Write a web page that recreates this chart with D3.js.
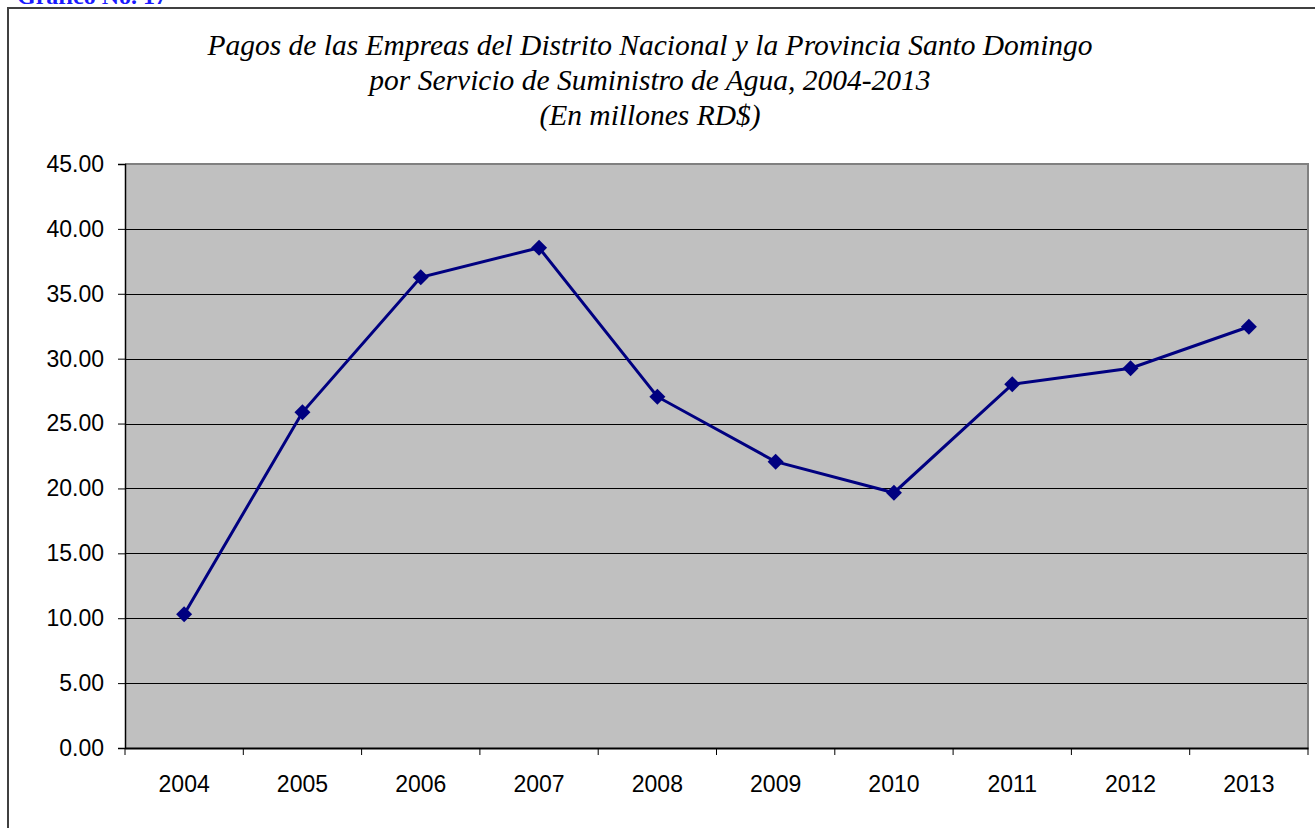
<!DOCTYPE html>
<html>
<head>
<meta charset="utf-8">
<script src="https://cdn.jsdelivr.net/npm/d3@7"></script>
<style>
  body { margin: 0; background: #fff; }
  svg { display: block; }
</style>
</head>
<body>
<div id="chart"></div>
<script>
// data
const years = ["2004", "2005", "2006", "2007", "2008", "2009", "2010", "2011", "2012", "2013"];
const pagos = [10.30, 25.87, 36.27, 38.55, 27.07, 22.06, 19.67, 28.02, 29.26, 32.46];
const yTicks = [0, 5, 10, 15, 20, 25, 30, 35, 40, 45];
const titleLines = [
    "Pagos de las Empreas del Distrito Nacional y la Provincia Santo Domingo",
    "por Servicio de Suministro de Agua, 2004-2013",
    "(En millones RD$)"
];

const width = 1315, height = 828;
const plot = {left: 125, top: 164, right: 1308, bottom: 748};

let svg = d3.select("#chart")
    .append("svg")
    .attr("width", width)
    .attr("height", height);

// blue caption, cut off at the top edge like in the source
svg.append("text")
    .attr("x", 17)
    .attr("y", 4)
    .style("font-family", "'Liberation Serif', 'Times New Roman', serif")
    .style("font-weight", "bold")
    .style("font-size", "24px")
    .style("fill", "#1a1aff")
    .text("Gráfico No. 17");

// outer chart frame
svg.append("rect")
    .attr("x", 8)
    .attr("y", 8)
    .attr("width", width + 20)
    .attr("height", height + 20)
    .attr("fill", "none")
    .attr("stroke", "#404040")
    .attr("stroke-width", 2);

// title
svg.append("g").selectAll("text")
    .data(titleLines)
    .enter()
    .append("text")
    .attr("x", 650)
    .attr("y", (d, i) => 55 + i * 35)
    .style("text-anchor", "middle")
    .style("font-family", "'Liberation Serif', 'Times New Roman', serif")
    .style("font-style", "italic")
    .style("font-size", "29.5px")
    .style("fill", "#000")
    .text(d => d);

let x = d3.scaleBand()
    .domain(years)
    .range([plot.left, plot.right]);

let y = d3.scaleLinear()
    .domain([0, 45])
    .range([plot.bottom, plot.top]);

// plot area
svg.append("rect")
    .attr("x", plot.left)
    .attr("y", plot.top)
    .attr("width", plot.right - plot.left)
    .attr("height", plot.bottom - plot.top)
    .attr("fill", "#c0c0c0");

// gridlines
svg.append("g").selectAll("line")
    .data(yTicks.filter(d => d > 0 && d < 45))
    .enter()
    .append("line")
    .attr("x1", plot.left)
    .attr("x2", plot.right)
    .attr("y1", d => Math.round(y(d)) + 0.5)
    .attr("y2", d => Math.round(y(d)) + 0.5)
    .attr("stroke", "#000")
    .attr("stroke-width", 1);

// gray border top and right
svg.append("path")
    .attr("d", `M${plot.left},${plot.top}H${plot.right}V${plot.bottom}`)
    .attr("fill", "none")
    .attr("stroke", "#808080")
    .attr("stroke-width", 2);

const axisFont = "'Liberation Sans', Arial, sans-serif";

// y axis
let yAxis = svg.append("g")
    .attr("transform", `translate(${plot.left}, 0)`)
    .call(d3.axisLeft(y).tickValues(yTicks).tickSize(7).tickPadding(14).tickFormat(d3.format(".2f")));
yAxis.select(".domain").attr("stroke", "#000").attr("stroke-width", 1.5);
yAxis.selectAll(".tick line").attr("stroke", "#000");
yAxis.selectAll("text")
    .style("font-family", axisFont)
    .style("font-size", "23px")
    .attr("fill", "#000");

// x axis, ticks on category boundaries
let xAxis = svg.append("g")
    .attr("transform", `translate(0, ${plot.bottom})`)
    .call(d3.axisBottom(x).tickSize(0).tickPadding(28));
xAxis.select(".domain").attr("stroke", "#000").attr("stroke-width", 2);
xAxis.selectAll("text")
    .style("font-family", axisFont)
    .style("font-size", "23px")
    .attr("fill", "#000");
xAxis.append("g").selectAll("line")
    .data(years.concat(["end"]))
    .enter()
    .append("line")
    .attr("x1", (d, i) => i < years.length ? x(d) : plot.right)
    .attr("x2", (d, i) => i < years.length ? x(d) : plot.right)
    .attr("y1", 0)
    .attr("y2", 7)
    .attr("stroke", "#000");

// series line
let cx = d => x(d) + x.bandwidth() / 2;
let series = years.map((d, i) => [d, pagos[i]]);

svg.append("path")
    .datum(series)
    .attr("fill", "none")
    .attr("stroke", "#000080")
    .attr("stroke-width", 3)
    .attr("d", d3.line().x(d => cx(d[0])).y(d => y(d[1])));

svg.append("g").selectAll("path")
    .data(series)
    .enter()
    .append("path")
    .attr("d", d3.symbol(d3.symbolSquare, 128))
    .attr("transform", d => `translate(${cx(d[0])}, ${y(d[1])}) rotate(45)`)
    .attr("fill", "#000080");
</script>
</body>
</html>
